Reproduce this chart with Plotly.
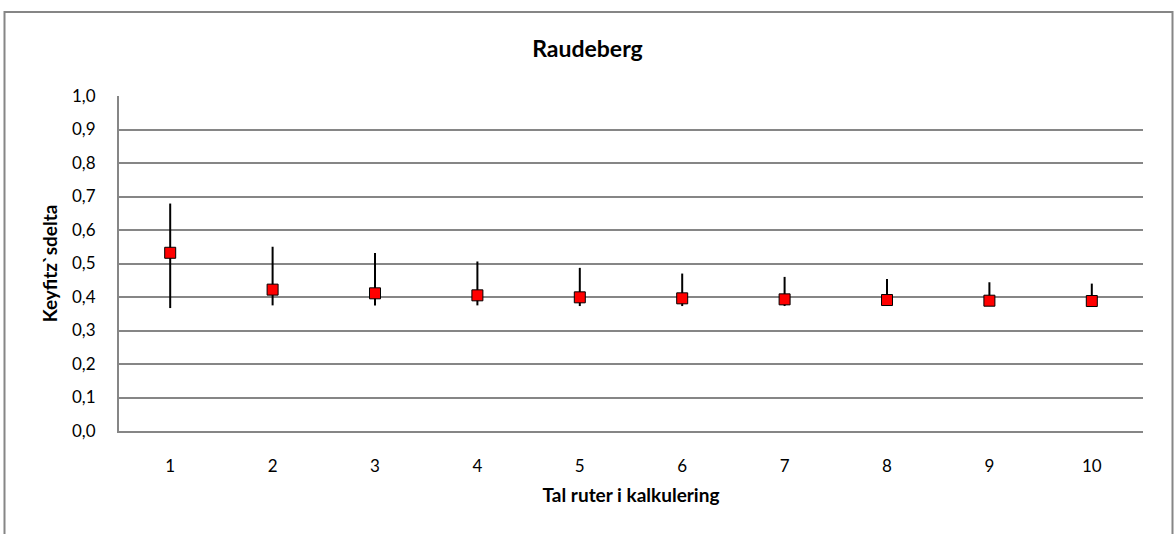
import plotly.graph_objects as go

# Number of routes used in the calculation
categories = ["1", "2", "3", "4", "5", "6", "7", "8", "9", "10"]
# Keyfitz's delta: central estimate, upper and lower bounds
delta_mid = [0.532, 0.422, 0.411, 0.405, 0.399, 0.396, 0.393, 0.391, 0.389, 0.388]
delta_high = [0.679, 0.550, 0.531, 0.506, 0.487, 0.470, 0.460, 0.454, 0.444, 0.440]
delta_low = [0.367, 0.375, 0.375, 0.375, 0.373, 0.373, 0.373, 0.374, 0.373, 0.372]

err_plus = [h - m for h, m in zip(delta_high, delta_mid)]
err_minus = [m - l for m, l in zip(delta_mid, delta_low)]

FONT = "Lato, 'Open Sans', sans-serif"
GRID = "#868686"

fig = go.Figure()
fig.add_trace(go.Scatter(
    x=categories,
    y=delta_mid,
    mode="markers",
    marker=dict(symbol="square", size=11, color="#ff0000",
                line=dict(color="#000000", width=1)),
    error_y=dict(type="data", symmetric=False, array=err_plus,
                 arrayminus=err_minus, width=0, thickness=2, color="#000000"),
    showlegend=False,
))

W, H = 1175, 534
L, R, T, B = 119, 32, 96, 103
pw, ph = W - L - R, H - T - B


def px_x(p):
    return (p - L) / pw


def px_y(p):
    return (H - B - p) / ph


fig.update_layout(
    width=W, height=H,
    margin=dict(l=L, r=R, t=T, b=B),
    paper_bgcolor="white", plot_bgcolor="white",
    separators=", ",
    font=dict(family=FONT, size=17, color="#000000"),
    title=dict(text="<b>Raudeberg</b>", x=0.5, xref="container", xanchor="center",
               y=1 - 49 / H, yref="container", yanchor="middle",
               font=dict(family=FONT, size=23, color="#000000")),
    xaxis=dict(
        type="category", range=[-0.5, 9.5], showgrid=False, zeroline=False,
        showline=True, linecolor=GRID, linewidth=2,
        ticks="", ticklabelstandoff=19,
        tickfont=dict(family=FONT, size=17),
        title=dict(text="<b>Tal ruter i kalkulering</b>", standoff=13,
                   font=dict(family=FONT, size=19)),
    ),
    yaxis=dict(
        range=[0, 1.0], dtick=0.1, tickformat=".1f",
        showgrid=True, gridcolor=GRID, gridwidth=1.5, zeroline=False,
        showline=True, linecolor=GRID, linewidth=2,
        ticks="", ticklabelstandoff=18,
        tickfont=dict(family=FONT, size=17),
        title=dict(text="<b>Keyfitz`sdelta</b>", standoff=9,
                   font=dict(family=FONT, size=19)),
    ),
    shapes=[dict(type="rect", xref="paper", yref="paper",
                 x0=px_x(4.5), x1=px_x(1172.5), y0=px_y(545), y1=px_y(12),
                 line=dict(color=GRID, width=2), fillcolor="rgba(0,0,0,0)",
                 layer="below")],
)

fig.write_html("out.html")
